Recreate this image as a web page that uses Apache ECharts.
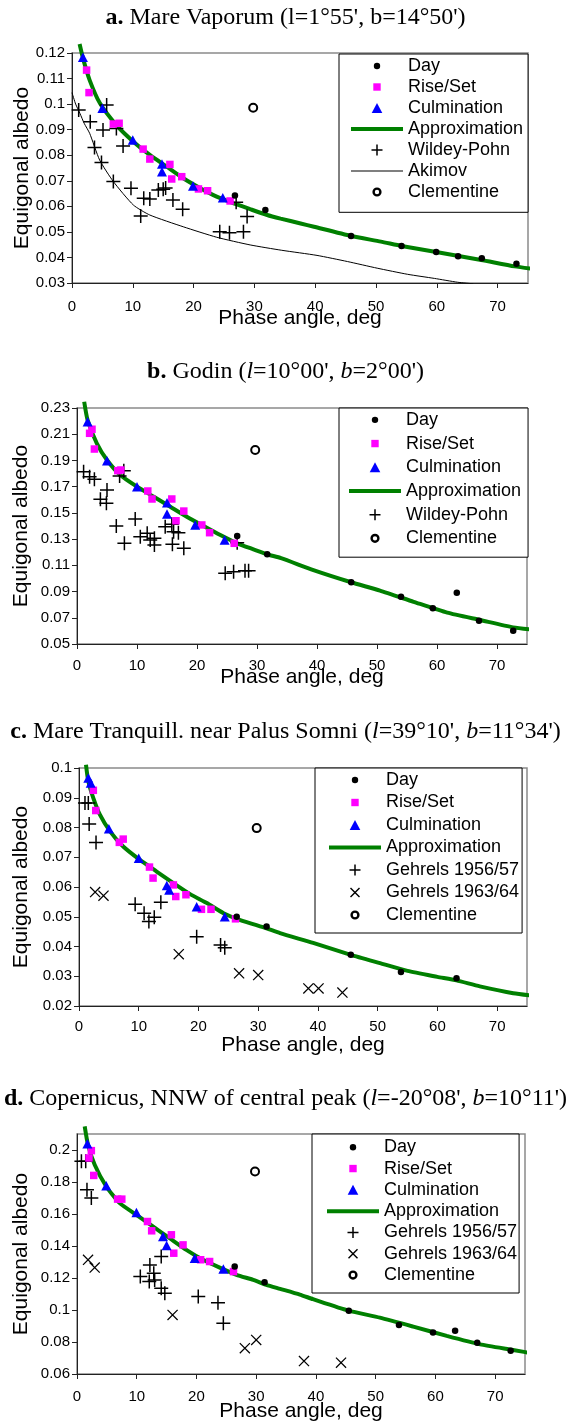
<!DOCTYPE html>
<html>
<head>
<meta charset="utf-8">
<script src="https://cdn.jsdelivr.net/npm/echarts/dist/echarts.min.js"></script>
<style>
html, body { margin: 0; padding: 0; background: #fff; }
#main { width: 571px; height: 1423px; }
</style>
</head>
<body>
<div id="main"></div>
<script>
// ---- data: [phase angle, equigonal albedo] ----
// a. Mare Vaporum
var aDay = [[26.8,0.0642],[31.8,0.0586],[45.9,0.0484],[54.2,0.0445],[59.9,0.0421],[63.5,0.0405],[67.4,0.0397],[73.1,0.0375]];
var aRise = [[2.4,0.1133],[2.8,0.1045],[6.8,0.0922],[7.75,0.0925],[11.7,0.0824],[12.8,0.0785],[16.1,0.0764],[16.4,0.0707],[18.05,0.0716],[20.8,0.0668],[22.3,0.0661],[26.0,0.0621]];
var aCulm = [[1.8,0.1183],[5.0,0.0984],[10.0,0.086],[14.8,0.0766],[14.8,0.0735],[19.9,0.068],[24.8,0.0634]];
var aApprox = [[1.25,0.1235],[1.8,0.118],[2.9,0.1094],[4.6,0.1003],[7.3,0.0918],[10.1,0.0853],[12.8,0.0801],[15.6,0.0755],[18.3,0.071],[21.1,0.0671],[23.8,0.0638],[26.6,0.0612],[29.3,0.0589],[32.1,0.0566],[34.3,0.0552],[37.6,0.0533],[39.8,0.052],[45.9,0.0484],[50.8,0.0462],[54.2,0.0445],[59.9,0.0421],[67.3,0.039],[72.8,0.0365],[76.8,0.0352]];
var aWildey = [[1.1,0.0977],[3.0,0.0931],[5.7,0.0997],[5.1,0.0899],[3.7,0.083],[4.85,0.0772],[7.3,0.0905],[8.4,0.0836],[6.8,0.0697],[9.7,0.0671],[11.3,0.0562],[11.8,0.0632],[12.8,0.0629],[14.2,0.0664],[15.0,0.0667],[15.4,0.0672],[16.6,0.0625],[18.2,0.0589],[24.3,0.0501],[25.9,0.0497],[27.0,0.0616],[28.8,0.056],[28.2,0.0501]];
var aAkimov = [[0,0.1045],[0.6,0.1],[1.3,0.0964],[2,0.0925],[2.9,0.0886],[4.55,0.0781],[6.8,0.0697],[10.1,0.0605],[12.8,0.0566],[18.3,0.052],[23.8,0.0479],[29.3,0.0449],[34.5,0.0428],[40.3,0.0408],[45.3,0.0384],[50.2,0.0358],[55.2,0.0334],[59.6,0.0318],[63.4,0.0303],[66,0.0297]];
var aClem = [[29.8,0.0986]];

// b. Godin
var bDay = [[26.7,0.1324],[31.7,0.1184],[45.7,0.0971],[54.0,0.0861],[59.3,0.0772],[63.3,0.0891],[67.0,0.0678],[72.7,0.0601]];
var bRise = [[2.5,0.2138],[2.1,0.2107],[2.9,0.1987],[6.8,0.1822],[7.3,0.1827],[11.8,0.1667],[12.5,0.1606],[15.8,0.1606],[16.5,0.144],[17.8,0.1514],[20.8,0.1408],[22.1,0.1349],[26.2,0.1268]];
var bCulm = [[1.77,0.2196],[5.0,0.1898],[10.0,0.170],[15.0,0.1578],[15.0,0.1491],[19.7,0.1408],[24.6,0.1293]];
var bApprox = [[1.2,0.2348],[1.77,0.2208],[3.3,0.2031],[5.0,0.1903],[7.2,0.1789],[10.0,0.170],[12.8,0.1623],[15.55,0.1547],[18.3,0.1471],[21.1,0.14],[23.9,0.1331],[26.7,0.1268],[29.4,0.1222],[31.7,0.1184],[34.0,0.1155],[39.4,0.1064],[45.7,0.0971],[50.5,0.0907],[56.1,0.0822],[61.7,0.0739],[67.2,0.0683],[72.7,0.0627],[76.8,0.0605]];
var bWildey = [[1.1,0.1814],[2.1,0.1776],[2.9,0.1756],[5.0,0.1675],[3.9,0.1604],[4.9,0.1573],[7.1,0.1781],[7.8,0.1822],[6.55,0.140],[9.7,0.1453],[7.9,0.1268],[10.55,0.1318],[11.7,0.1344],[12.2,0.1293],[12.9,0.1306],[12.9,0.1255],[14.7,0.1395],[15.8,0.1413],[16.1,0.1356],[16.9,0.1349],[15.9,0.126],[17.8,0.123],[24.7,0.1039],[26.1,0.1051],[28.0,0.1059],[28.6,0.1059],[26.7,0.1273]];
var bClem = [[29.7,0.198]];

// c. Mare Tranquill. near Palus Somni
var cDay = [[26.4,0.050],[31.4,0.0467],[45.5,0.0372],[53.9,0.0314],[63.2,0.0293]];
var cRise = [[2.4,0.0925],[2.8,0.0857],[6.75,0.075],[7.4,0.0761],[11.8,0.0667],[12.4,0.063],[15.8,0.0607],[16.2,0.0568],[17.9,0.0574],[20.5,0.0525],[22.1,0.0525],[26.2,0.0493]];
var cCulm = [[1.56,0.0966],[1.96,0.095],[5.0,0.0796],[10.0,0.0697],[14.7,0.0605],[15.1,0.059],[19.7,0.0534],[24.4,0.050]];
var cApprox = [[1.17,0.1011],[1.56,0.0955],[2.4,0.0899],[3.5,0.0843],[5.2,0.0787],[7.4,0.0736],[10.2,0.0691],[13.0,0.0652],[15.8,0.0613],[18.6,0.0576],[21.4,0.0546],[24.2,0.0512],[27.0,0.0489],[31.4,0.0461],[33.65,0.0445],[39.2,0.0412],[45.5,0.0372],[50.4,0.0344],[55,0.0318],[60,0.0298],[63.2,0.0286],[67.1,0.0266],[72.7,0.0243],[76.8,0.0233]];
var cGehrels56 = [[1.0,0.0882],[1.56,0.0882],[1.7,0.0812],[2.85,0.075],[9.4,0.0542],[10.9,0.0512],[11.7,0.0484],[12.6,0.0498],[13.7,0.0549],[19.7,0.0433],[23.7,0.0405],[24.4,0.0396]];
var cGehrels63 = [[2.7,0.0583],[4.1,0.0571],[16.7,0.0374],[26.8,0.031],[30.0,0.0304],[38.4,0.0259],[40.1,0.0259],[44.1,0.0245]];
var cClem = [[29.75,0.0798]];

// d. Copernicus, NNW of central peak
var dDay = [[26.4,0.1272],[31.4,0.1174],[45.5,0.0996],[53.9,0.0907],[59.6,0.0859],[63.3,0.0871],[67.0,0.0796],[72.6,0.0746]];
var dRise = [[2.4,0.1996],[2.0,0.195],[2.8,0.1841],[6.8,0.1693],[7.5,0.1693],[11.8,0.1553],[12.5,0.1495],[15.8,0.147],[16.2,0.1355],[17.75,0.1407],[20.7,0.1314],[22.2,0.1303],[26.2,0.124]];
var dCulm = [[1.74,0.2039],[4.9,0.1777],[9.95,0.161],[14.4,0.1459],[15.0,0.1403],[19.7,0.1324],[24.5,0.1257]];
var dApprox = [[1.29,0.2148],[1.84,0.2033],[2.96,0.1908],[4.9,0.1772],[7.15,0.1668],[9.95,0.1595],[12.7,0.1522],[15.5,0.1449],[18.3,0.1376],[21.1,0.1314],[23.9,0.1265],[26.7,0.122],[29.5,0.1188],[31.7,0.1157],[34.0,0.1132],[37.3,0.1096],[39.5,0.1068],[45.5,0.0996],[50.7,0.0952],[56.3,0.0896],[61.9,0.0838],[67.5,0.0785],[73.0,0.075],[76.8,0.0725]];
var dGehrels56 = [[0.74,0.1929],[1.46,0.1929],[1.67,0.1752],[2.4,0.17],[10.6,0.1209],[12.2,0.1282],[12.1,0.1178],[13.0,0.1188],[12.85,0.123],[14.1,0.1136],[14.7,0.1105],[14.1,0.1334],[20.3,0.1084],[23.6,0.1046],[24.5,0.0917]];
var dGehrels63 = [[1.85,0.1314],[2.96,0.1265],[16.0,0.0969],[28.1,0.0761],[30.0,0.0813],[38.0,0.0681],[44.2,0.0671]];
var dClem = [[29.8,0.1866]];

// axis ticks
var xTicks = { min: 0, max: 75, interval: 10 };
var yTicks = [
    { min: 0.03, max: 0.12, interval: 0.01 },
    { min: 0.05, max: 0.23, interval: 0.02 },
    { min: 0.02, max: 0.1, interval: 0.01 },
    { min: 0.06, max: 0.21, interval: 0.02 }
];

// ---- layout / style ----
var SANS = 'Liberation Sans, Arial, sans-serif';
var SERIF = 'Liberation Serif, Times New Roman, serif';
var GREEN = '#008000';

var gridPos = [
    { left: 72, top: 53, width: 456, height: 230 },
    { left: 77, top: 408, width: 450, height: 236 },
    { left: 79, top: 768, width: 448, height: 238 },
    { left: 77, top: 1134, width: 448, height: 240 }
];
var xNameGap = [25, 23, 29, 27];
var xLabelMargin = [16, 14, 13, 15];
var yNameGap = [39, 45, 47, 45];

var plusPath = 'path://M-7,-0.75H7V0.75H-7Z M-0.75,-7H0.75V7H-0.75Z';
var crossPath = 'path://M-5,-4.2L-4.2,-5L5,4.2L4.2,5Z M4.2,-5L5,-4.2L-4.2,5L-5,4.2Z';

// legend icons, drawn in a 12px high box (M0,0 M.. pins the box)
var legendIcon = {
    'Day': 'path://M0,0M12,12M2.8,6a3.2,3.2 0 1,1 6.4,0a3.2,3.2 0 1,1 -6.4,0z',
    'Rise/Set': 'path://M0,0M12,12M2.3,2.3h7.4v7.4h-7.4z',
    'Culmination': 'path://M0,0M12,12M6,1L11.3,11L0.7,11z',
    'Approximation': 'path://M0,0M52,12M0,4h52v4h-52z',
    'Wildey-Pohn': 'path://M0,0M12,12M0.5,5.25h11v1.5h-11z M5.25,0.5h1.5v11h-1.5z',
    'Gehrels 1956/57': 'path://M0,0M12,12M0.5,5.25h11v1.5h-11z M5.25,0.5h1.5v11h-1.5z',
    'Gehrels 1963/64': 'path://M0,0M12,12M1,2L2,1L11,10L10,11z M10,1L11,2L2,11L1,10z',
    'Akimov': 'path://M0,0M52,12M0,5.5h52v1h-52z',
    'Clementine': 'path://M0,0M12,12M1.4,6a4.6,4.6 0 1,1 9.2,0a4.6,4.6 0 1,1 -9.2,0z M3.8,6a2.2,2.2 0 1,0 4.4,0a2.2,2.2 0 1,0 -4.4,0z'
};

function legendFor(names, left, top, pad, lineHeight) {
    return {
        orient: 'vertical', left: left, top: top,
        itemWidth: 52, itemHeight: 12, itemGap: 0,
        padding: pad,
        borderColor: '#000', borderWidth: 1, backgroundColor: '#fff',
        selectedMode: false,
        itemStyle: { borderWidth: 0 },
        textStyle: { fontFamily: SANS, fontSize: 18, color: '#000', lineHeight: lineHeight },
        data: names.map(function (n) { return { name: n, icon: legendIcon[n] }; })
    };
}

function titleFor(rich, top) {
    return {
        text: rich, left: 'center', top: top, padding: 0,
        textStyle: {
            fontFamily: SERIF, fontSize: 24, fontWeight: 'normal', color: '#000',
            rich: {
                b: { fontFamily: SERIF, fontSize: 24, fontWeight: 'bold', color: '#000' },
                i: { fontFamily: SERIF, fontSize: 24, fontStyle: 'italic', color: '#000' }
            }
        }
    };
}

function line(name, data, i, color, width, clip) {
    return {
        name: name, type: 'line', xAxisIndex: i, yAxisIndex: i, data: data,
        symbol: 'none', showSymbol: false, smooth: 0.2, clip: clip, z: 1,
        itemStyle: { color: color },
        lineStyle: { color: color, width: width }
    };
}

function dots(name, data, i, symbol, size, color, z) {
    return {
        name: name, type: 'scatter', xAxisIndex: i, yAxisIndex: i, data: data,
        symbol: symbol, symbolSize: size, z: z,
        itemStyle: { color: color, opacity: 1 }
    };
}

function clem(data, i) {
    return {
        name: 'Clementine', type: 'scatter', xAxisIndex: i, yAxisIndex: i, data: data,
        symbol: 'emptyCircle', symbolSize: 8, z: 3,
        itemStyle: { color: '#000', borderColor: '#000', borderWidth: 2.5, opacity: 1 }
    };
}

function common(i) {
    return [
        line('Approximation', [aApprox, bApprox, cApprox, dApprox][i], i, GREEN, 4, false),
        dots('Rise/Set', [aRise, bRise, cRise, dRise][i], i, 'rect', 7.5, '#ff00ff', 4),
        dots('Culmination', [aCulm, bCulm, cCulm, dCulm][i], i, 'triangle', [10, 9.5], '#0000ff', 5),
        dots('Day', [aDay, bDay, cDay, dDay][i], i, 'circle', 6.5, '#000', 6)
    ];
}

var series = [].concat(
    common(0),
    [line('Akimov', aAkimov, 0, '#000', 1, true),
     dots('Wildey-Pohn', aWildey, 0, plusPath, 14, '#000', 3),
     clem(aClem, 0)],
    common(1),
    [dots('Wildey-Pohn', bWildey, 1, plusPath, 14, '#000', 3),
     clem(bClem, 1)],
    common(2),
    [dots('Gehrels 1956/57', cGehrels56, 2, plusPath, 14, '#000', 3),
     dots('Gehrels 1963/64', cGehrels63, 2, crossPath, 11, '#000', 3),
     clem(cClem, 2)],
    common(3),
    [dots('Gehrels 1956/57', dGehrels56, 3, plusPath, 14, '#000', 3),
     dots('Gehrels 1963/64', dGehrels63, 3, crossPath, 11, '#000', 3),
     clem(dClem, 3)]
);

var grids = [], xAxes = [], yAxes = [];
for (var i = 0; i < 4; i++) {
    grids.push({
        left: gridPos[i].left, top: gridPos[i].top,
        width: gridPos[i].width, height: gridPos[i].height,
        show: true, borderColor: '#8a8a8a', borderWidth: 1.5,
        containLabel: false, outerBoundsMode: 'none'
    });
    xAxes.push({
        gridIndex: i, type: 'value', min: xTicks.min, max: xTicks.max, interval: xTicks.interval,
        name: 'Phase angle, deg', nameLocation: 'middle', nameGap: xNameGap[i], nameMoveOverlap: false,
        nameTextStyle: { fontFamily: SANS, fontSize: 21, color: '#000' },
        axisLine: { onZero: false, lineStyle: { color: '#222', width: 1 } },
        axisTick: { show: true, inside: false, length: 5, lineStyle: { color: '#222' } },
        axisLabel: { margin: xLabelMargin[i], fontFamily: SANS, fontSize: 15, color: '#000', showMaxLabel: false },
        splitLine: { show: false }
    });
    yAxes.push({
        gridIndex: i, type: 'value', min: yTicks[i].min, max: yTicks[i].max, interval: yTicks[i].interval,
        name: 'Equigonal albedo', nameLocation: 'middle', nameGap: yNameGap[i], nameMoveOverlap: false,
        nameTextStyle: { fontFamily: SANS, fontSize: 21, color: '#000' },
        axisLine: { onZero: false, lineStyle: { color: '#222', width: 1 } },
        axisTick: { show: true, inside: false, length: 5, lineStyle: { color: '#222' } },
        axisLabel: { margin: 7, fontFamily: SANS, fontSize: 15, color: '#000', showMaxLabel: i === 3 ? false : null },
        splitLine: { show: false }
    });
}

var option = {
    animation: false,
    backgroundColor: '#fff',
    title: [
        titleFor("{b|a.} Mare Vaporum (l=1°55', b=14°50')", 6),
        titleFor("{b|b.} Godin ({i|l}=10°00', {i|b}=2°00')", 360),
        titleFor("{b|c.} Mare Tranquill. near Palus Somni ({i|l}=39°10', {i|b}=11°34')", 720),
        titleFor("{b|d.} Copernicus, NNW of central peak ({i|l}=-20°08', {i|b}=10°11')", 1087)
    ],
    legend: [
        legendFor(['Day', 'Rise/Set', 'Culmination', 'Approximation', 'Wildey-Pohn', 'Akimov', 'Clementine'], 339, 54, [1.5, 5, 9.8, 12], 21),
        legendFor(['Day', 'Rise/Set', 'Culmination', 'Approximation', 'Wildey-Pohn', 'Clementine'], 339, 408, [0, 7, 7, 10], 23.7),
        legendFor(['Day', 'Rise/Set', 'Culmination', 'Approximation', 'Gehrels 1956/57', 'Gehrels 1963/64', 'Clementine'], 315, 768, [0.75, 3, 6.75, 14], 22.5),
        legendFor(['Day', 'Rise/Set', 'Culmination', 'Approximation', 'Gehrels 1956/57', 'Gehrels 1963/64', 'Clementine'], 312, 1134, [2.6, 2, 7.3, 15], 21.3)
    ],
    grid: grids,
    xAxis: xAxes,
    yAxis: yAxes,
    series: series
};

var myChart = echarts.init(document.getElementById('main'));
myChart.setOption(option);
</script>
</body>
</html>
